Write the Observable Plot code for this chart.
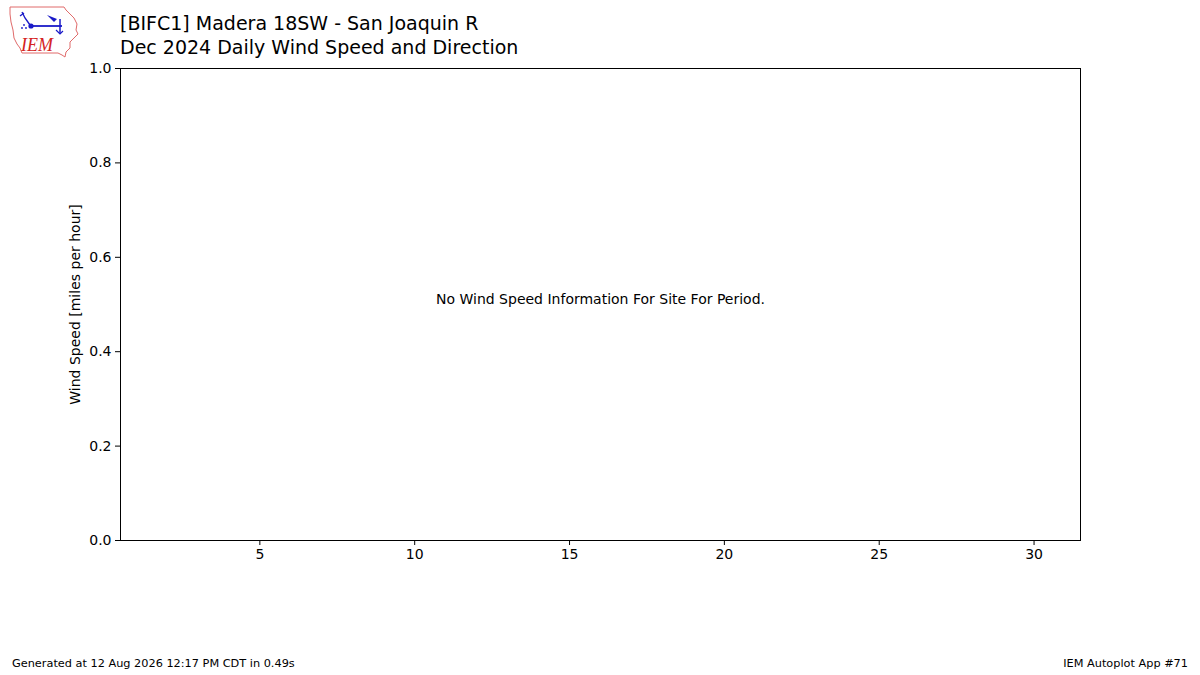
<!DOCTYPE html>
<html>
<head>
<meta charset="utf-8">
<script src="https://cdn.jsdelivr.net/npm/d3@7"></script>
<script src="https://cdn.jsdelivr.net/npm/@observablehq/plot@0.6"></script>
<style>
  html, body { margin: 0; padding: 0; background: #fff; }
  #wrap { position: relative; width: 1200px; height: 675px; overflow: hidden; font-family: "DejaVu Sans", sans-serif; }
  #chart { position: absolute; left: 0; top: 0; }
  .title { position: absolute; left: 120px; font-size: 19px; color: #000; white-space: nowrap; line-height: 1; }
  .foot { position: absolute; top: 658px; font-size: 11.3px; color: #000; white-space: nowrap; line-height: 1; }
  #logo { position: absolute; left: 0; top: 0; }
</style>
</head>
<body>
<div id="wrap">
  <div id="chart"></div>
  <svg id="logo" width="90" height="62" viewBox="0 0 90 62">
    <path d="M10,7 L64,7 L66,10 L70,14 L74,18 L77,24 L76,30 L78,34 L74,38 L70,42 L70,48 L66,52 L65,57 L62,55 L58,53 L22,53 L20,48 L17,44 L14,38 L13,30 L11,22 L10,14 Z" fill="none" stroke="#e06a6a" stroke-width="1"/>
    <path d="M22,12 L25,18 L30,25" fill="none" stroke="#1a1ac8" stroke-width="1.4"/>
    <path d="M20,16 L24,13" fill="none" stroke="#1a1ac8" stroke-width="1.3"/>
    <line x1="31" y1="26" x2="62" y2="26" stroke="#1a1ac8" stroke-width="1.8"/>
    <circle cx="31" cy="26" r="2.6" fill="#1a1ac8"/>
    <path d="M47,15 L57,19 L54,22 Z" fill="#1a1ac8"/>
    <line x1="60" y1="19" x2="60" y2="33" stroke="#1a1ac8" stroke-width="1.5"/>
    <path d="M56,30 L60,34 L63,31" fill="none" stroke="#1a1ac8" stroke-width="1.2"/>
    <circle cx="24" cy="25" r="0.9" fill="#1a1ac8"/>
    <circle cx="22" cy="28" r="0.9" fill="#1a1ac8"/>
    <circle cx="26" cy="28" r="0.9" fill="#1a1ac8"/>
    <text x="21" y="51" font-family="Liberation Serif, serif" font-style="italic" font-size="18" fill="#d42222">IEM</text>
  </svg>
  <div class="title" style="top:14px;">[BIFC1] Madera 18SW - San Joaquin R</div>
  <div class="title" style="top:38px;">Dec 2024 Daily Wind Speed and Direction</div>
  <div class="foot" style="left:12px;">Generated at 12 Aug 2026 12:17 PM CDT in 0.49s</div>
  <div class="foot" style="right:12px;">IEM Autoplot App #71</div>
</div>
<script>
// Data / labels
const xDomain = [0.5, 31.5];
const xTicks = [5, 10, 15, 20, 25, 30];
const yDomain = [0, 1];
const yTicks = [0, 0.2, 0.4, 0.6, 0.8, 1.0];
const yLabel = "Wind Speed [miles per hour]";
const noteText = ["No Wind Speed Information For Site For Period."];
const noteX = [16];
const noteY = [0.5];

const notes = noteText.map((t, i) => ({text: t, x: noteX[i], y: noteY[i]}));

const chart = Plot.plot({
  width: 1200,
  height: 675,
  marginLeft: 120,
  marginRight: 120,
  marginTop: 68,
  marginBottom: 135,
  style: {fontFamily: "DejaVu Sans, sans-serif", fontSize: "14px", background: "white", color: "black"},
  x: {domain: xDomain},
  y: {domain: yDomain},
  marks: [
    Plot.frame({stroke: "black", strokeWidth: 1}),
    Plot.axisX({ticks: xTicks, tickSize: 5, tickPadding: 4, tickFormat: d => String(d), label: null, fontSize: 14}),
    Plot.axisY({ticks: yTicks, tickSize: 5, tickPadding: 4, tickFormat: d3.format(".1f"), label: yLabel, labelAnchor: "center", labelArrow: "none", labelOffset: 50, fontSize: 14}),
    Plot.text(notes, {x: "x", y: "y", text: "text", fontSize: 14, dy: -5, fill: "black"})
  ]
});
document.getElementById("chart").appendChild(chart);
</script>
</body>
</html>
